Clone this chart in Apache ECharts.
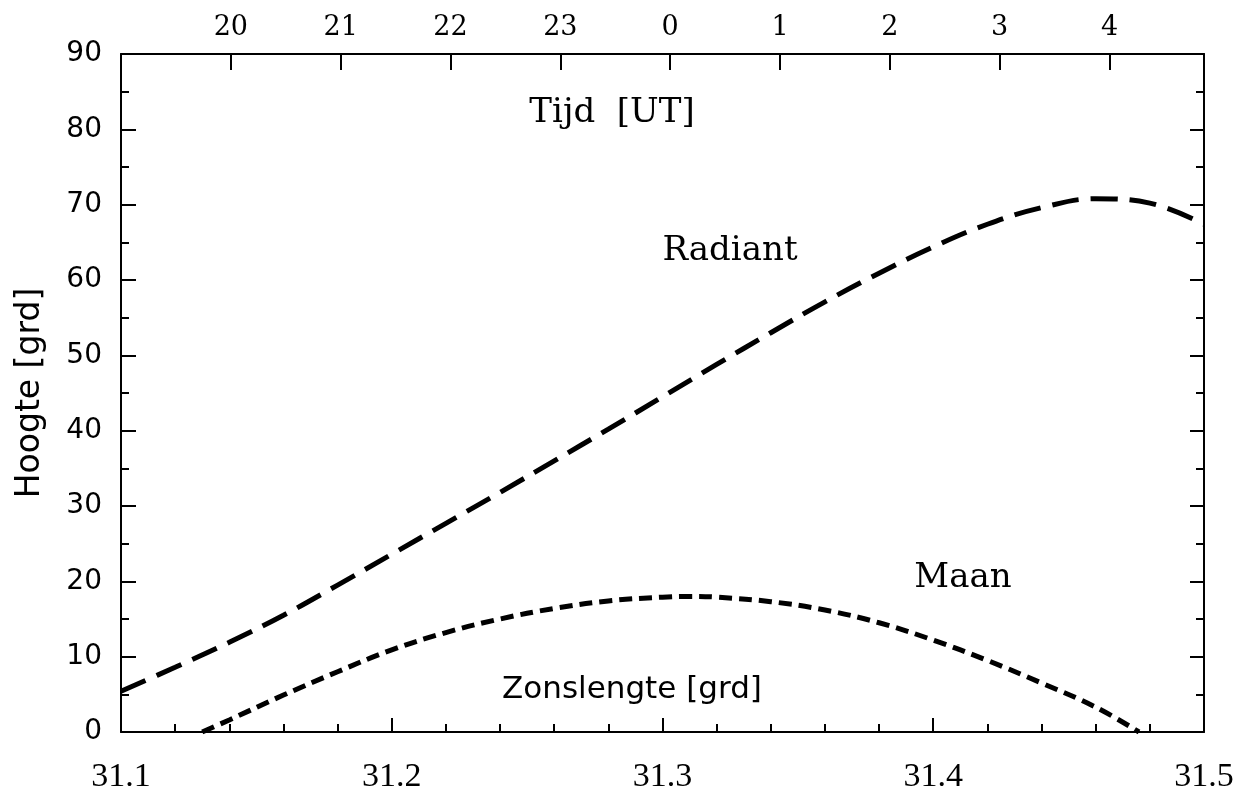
<!DOCTYPE html>
<html>
<head>
<meta charset="utf-8">
<script src="https://cdn.jsdelivr.net/npm/echarts@6/dist/echarts.min.js"></script>
<style>
html,body{margin:0;padding:0;background:#fff;}
#chart{width:1246px;height:794px;}
</style>
</head>
<body>
<div id="chart"></div>
<script>
// Solar longitude (x) and altitude (y) values
const radiantX = [31.10,31.12,31.14,31.16,31.18,31.20,31.22,31.24,31.26,31.28,31.30,31.32,31.34,31.36,31.38,31.40,31.42,31.44,31.46,31.48,31.50];
const radiantY = [5.4,8.6,11.9,15.5,19.5,23.6,27.7,31.8,36.0,40.2,44.5,48.8,53.0,57.1,60.9,64.4,67.4,69.6,70.8,70.2,67.4];
const moonX = [31.130,31.14,31.16,31.18,31.20,31.22,31.24,31.26,31.28,31.30,31.31,31.32,31.34,31.36,31.38,31.40,31.42,31.44,31.46,31.476];
const moonY = [0,1.6,4.9,8.0,10.9,13.2,15.0,16.4,17.4,17.9,18.0,17.9,17.3,16.2,14.5,12.2,9.5,6.5,3.3,0];
// Axis ranges / ticks
const xMin = 31.1, xMax = 31.5, xStep = 0.1;
const yMin = 0, yMax = 90, yStep = 10;
const hourMin = 19, hourMax = 28.86, hourStep = 1;
const labels = {radiant: 'Radiant', moon: 'Maan', time: 'Tijd  [UT]', xName: 'Zonslengte [grd]', yName: 'Hoogte [grd]'};

const chart = echarts.init(document.getElementById('chart'), null, {renderer: 'canvas'});
const axisLine = {show: true, onZero: false, lineStyle: {color: '#000', width: 2}};
const txt = (t, x, y, font) => ({type: 'text', x: x, y: y, style: {text: t, fill: '#000', font: font, align: 'center', verticalAlign: 'middle'}});
const option = {
  backgroundColor: '#fff',
  animation: false,
  grid: {left: 121, right: 42, top: 54, bottom: 56, containLabel: false},
  xAxis: [
    {
      type: 'value', position: 'bottom', min: xMin, max: xMax, interval: xStep,
      axisLine: axisLine,
      axisTick: {show: true, inside: true, length: 14, lineStyle: {color: '#000', width: 2}},
      minorTick: {show: true, splitNumber: 5, length: 8, lineStyle: {color: '#000', width: 2}},
      splitLine: {show: false},
      axisLabel: {color: '#000', fontFamily: 'Liberation Serif', fontSize: 34, margin: 28,
        formatter: v => v.toFixed(1)}
    },
    {
      type: 'value', position: 'top', min: hourMin, max: hourMax, interval: hourStep,
      axisLine: axisLine,
      axisTick: {show: true, inside: true, length: 16, lineStyle: {color: '#000', width: 2}},
      splitLine: {show: false},
      axisLabel: {color: '#000', fontFamily: 'DejaVu Serif', fontSize: 27, margin: 13,
        showMinLabel: false, showMaxLabel: false,
        formatter: v => String(Math.round(v) % 24)}
    }
  ],
  yAxis: [
    {
      type: 'value', position: 'left', min: yMin, max: yMax, interval: yStep,
      name: labels.yName, nameLocation: 'middle', nameGap: 74,
      nameTextStyle: {color: '#000', fontFamily: 'DejaVu Sans', fontSize: 33},
      axisLine: axisLine,
      axisTick: {show: true, inside: true, length: 15, lineStyle: {color: '#000', width: 2}},
      minorTick: {show: true, splitNumber: 2, length: 8, lineStyle: {color: '#000', width: 2}},
      splitLine: {show: false},
      axisLabel: {color: '#000', fontFamily: 'DejaVu Sans', fontSize: 28, margin: 19}
    },
    {
      type: 'value', position: 'right', min: yMin, max: yMax, interval: yStep,
      axisLine: axisLine,
      axisTick: {show: true, inside: true, length: 14, lineStyle: {color: '#000', width: 2}},
      minorTick: {show: true, splitNumber: 2, length: 8, lineStyle: {color: '#000', width: 2}},
      splitLine: {show: false},
      axisLabel: {show: false}
    }
  ],
  graphic: [
    txt(labels.time, 612, 113, '34px "DejaVu Serif"'),
    txt(labels.radiant, 730, 251, '34px "DejaVu Serif"'),
    txt(labels.moon, 963, 578, '34px "DejaVu Serif"'),
    txt(labels.xName, 632, 690, '31px "DejaVu Sans"')
  ],
  series: [
    {
      name: labels.radiant, type: 'line', xAxisIndex: 0, yAxisIndex: 0,
      data: radiantX.map((x, i) => [x, radiantY[i]]),
      smooth: 0.4, showSymbol: false, clip: true,
      lineStyle: {color: '#000', width: 5, type: [27, 12], cap: 'butt'}
    },
    {
      name: labels.moon, type: 'line', xAxisIndex: 0, yAxisIndex: 0,
      data: moonX.map((x, i) => [x, moonY[i]]),
      smooth: 0.4, showSymbol: false, clip: true,
      lineStyle: {color: '#000', width: 5, type: [13, 7], cap: 'butt'}
    }
  ]
};
chart.setOption(option);
</script>
</body>
</html>
